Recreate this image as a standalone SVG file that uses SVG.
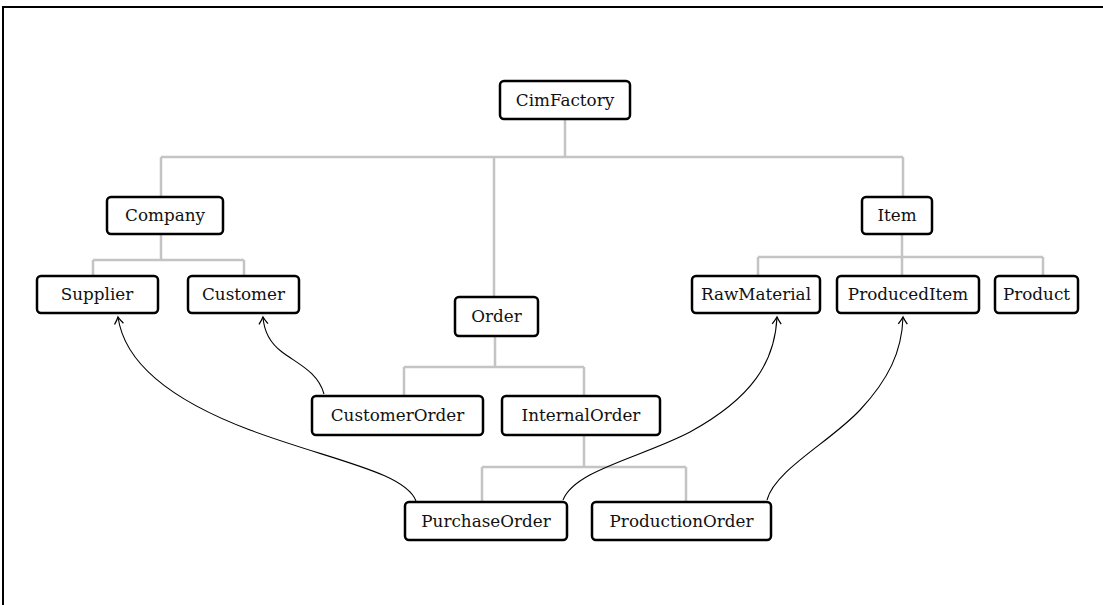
<svg xmlns="http://www.w3.org/2000/svg" width="1103" height="605" viewBox="0 0 1103 605">
<defs>
<style>
.box{fill:#fff;stroke:#000;stroke-width:2.5}
.lbl{font-family:"DejaVu Serif","Liberation Serif",serif;font-size:16.8px;fill:#111;text-anchor:middle}
.tree{fill:none;stroke:#c4c4c4;stroke-width:2.5}
.ref{fill:none;stroke:#000;stroke-width:1.1}
</style>
<marker id="arr" viewBox="-8 -6 10 12" markerWidth="10" markerHeight="12" refX="0" refY="0" orient="auto" markerUnits="userSpaceOnUse">
<path d="M-7,-4.5 Q-2.5,-1.2 0,0 Q-2.5,1.2 -7,4.5" fill="none" stroke="#000" stroke-width="1.3"/>
</marker>
</defs>
<rect x="3" y="7" width="1110" height="610" fill="#fff" stroke="#000" stroke-width="2"/>
<g id="connectors">
<path class="tree" d="M565,119V157M161,157H903M161,157V197M494,157V297M903,157V197"/>
<path class="tree" d="M161,234V260M93,260H244M93,260V276M244,260V276"/>
<path class="tree" d="M902,233V257M758,257H1043M758,257V276M902,257V276M1043,257V276"/>
<path class="tree" d="M495,336V367M404,367H584M404,367V396M584,367V396"/>
<path class="tree" d="M584,435V467M482,467H686M482,467V502M686,467V502"/>
<path class="ref" marker-end="url(#arr)" d="M416,501C405,472 330,460 250,430C165,398 124,360 118,317"/>
<path class="ref" marker-end="url(#arr)" d="M324,394C318,372 298,364 282,352C270,343 264,332 263,317"/>
<path class="ref" marker-end="url(#arr)" d="M563,500C575,470 640,458 690,432C752,398 775,362 777,317"/>
<path class="ref" marker-end="url(#arr)" d="M767,500C775,470 830,442 860,410C888,380 902,352 903,317"/>
</g>
<g id="CimFactory"><rect class="box" x="500" y="81" width="130" height="38" rx="4"/><text class="lbl" x="565" y="106">CimFactory</text></g>
<g id="Company"><rect class="box" x="107" y="197" width="116" height="37" rx="4"/><text class="lbl" x="165" y="221">Company</text></g>
<g id="Item"><rect class="box" x="862" y="197" width="70" height="37" rx="4"/><text class="lbl" x="897" y="221">Item</text></g>
<g id="Supplier"><rect class="box" x="37" y="276" width="121" height="37" rx="4"/><text class="lbl" x="97" y="300">Supplier</text></g>
<g id="Customer"><rect class="box" x="188" y="276" width="111" height="37" rx="4"/><text class="lbl" x="243.5" y="300">Customer</text></g>
<g id="Order"><rect class="box" x="455" y="297" width="83" height="39" rx="4"/><text class="lbl" x="496.5" y="322">Order</text></g>
<g id="RawMaterial"><rect class="box" x="692" y="276" width="128" height="37" rx="4"/><text class="lbl" x="756" y="300">RawMaterial</text></g>
<g id="ProducedItem"><rect class="box" x="837" y="276" width="142" height="37" rx="4"/><text class="lbl" x="908" y="300">ProducedItem</text></g>
<g id="Product"><rect class="box" x="995" y="276" width="83" height="37" rx="4"/><text class="lbl" x="1036.5" y="300">Product</text></g>
<g id="CustomerOrder"><rect class="box" x="312" y="396" width="171" height="39" rx="4"/><text class="lbl" x="397.5" y="421">CustomerOrder</text></g>
<g id="InternalOrder"><rect class="box" x="502" y="396" width="158" height="39" rx="4"/><text class="lbl" x="581" y="421">InternalOrder</text></g>
<g id="PurchaseOrder"><rect class="box" x="405" y="502" width="162" height="38" rx="4"/><text class="lbl" x="486" y="527">PurchaseOrder</text></g>
<g id="ProductionOrder"><rect class="box" x="592" y="502" width="179" height="38" rx="4"/><text class="lbl" x="681.5" y="527">ProductionOrder</text></g>
</svg>
